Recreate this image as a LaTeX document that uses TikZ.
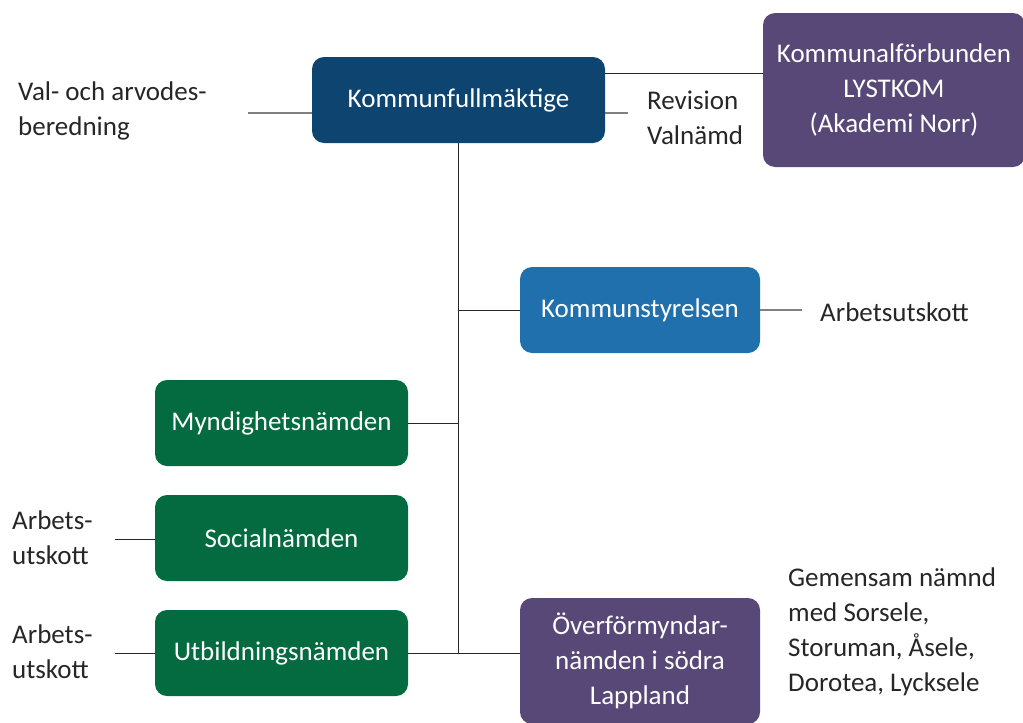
\documentclass[tikz,border=0pt]{standalone}
\usepackage{fontspec}
\setmainfont{Carlito}
\definecolor{kfblue}{HTML}{0D4470}
\definecolor{ksblue}{HTML}{1F70AC}
\definecolor{nmgreen}{HTML}{046A3F}
\definecolor{lila}{HTML}{574878}
\definecolor{txt}{HTML}{262626}
\definecolor{lgray}{HTML}{808080}
\tikzset{
  orgbox/.style={rounded corners=12pt, text=white, align=center, inner sep=0pt,
    font=\fontsize{27}{35}\selectfont},
  lbl/.style={anchor=west, align=left, text=txt, inner sep=0pt,
    font=\fontsize{27}{35}\selectfont},
  trunk/.style={draw=black!85, line width=1pt},
  sub/.style={draw=lgray, line width=1.2pt},
}
\begin{document}
\begin{tikzpicture}[x=1pt,y=-1pt]
\useasboundingbox (0,0) rectangle (1023,723);
% boxes
\node[orgbox, fill=kfblue, minimum width=293pt, minimum height=86pt] (kf) at (458.5,100) {Kommunfullmäktige};
\node[orgbox, fill=lila, minimum width=262pt, minimum height=154pt] (kfb) at (894,90) {Kommunalförbunden\\LYSTKOM\\(Akademi Norr)};
\node[orgbox, fill=ksblue, minimum width=240pt, minimum height=86pt] (ks) at (640,310) {Kommunstyrelsen};
\node[orgbox, fill=nmgreen, minimum width=253pt, minimum height=86pt] (mynd) at (281.5,423) {Myndighetsnämden};
\node[orgbox, fill=nmgreen, minimum width=253pt, minimum height=86pt] (soc) at (281.5,538) {Socialnämden};
\node[orgbox, fill=nmgreen, minimum width=253pt, minimum height=86pt] (utb) at (281.5,653) {Utbildningsnämden};
\node[orgbox, fill=lila, minimum width=240pt, minimum height=126pt] (over) at (640,661) {Överförmyndar-\\nämden i södra\\Lappland};
% labels
\node[lbl] (valb) at (18,111) {Val- och arvodes-\\beredning};
\node[lbl] (rev) at (647,118) {Revision\\Valnämd};
\node[lbl] (ksau) at (820,312) {Arbetsutskott};
\node[lbl] (socau) at (12,538) {Arbets-\\utskott};
\node[lbl] (utbau) at (12,652) {Arbets-\\utskott};
\node[lbl] (gem) at (788,632) {Gemensam nämnd\\med Sorsele,\\Storuman, Åsele,\\Dorotea, Lycksele};
% free ends
\coordinate (valbend) at (248,113);
\coordinate (revend) at (628,113);
\coordinate (ksauend) at (802,310);
\coordinate (socauend) at (115,539);
\coordinate (utbauend) at (115,653);
% connectors
\draw[trunk] (kf.south) -- (kf.south |- utb.east);
\draw[trunk] ([yshift=27pt]kf.east) -- ([yshift=27pt]kf.east -| kfb.west);
\draw[sub] (kf.west |- valbend) -- (valbend);
\draw[sub] (kf.east |- revend) -- (revend);
\draw[trunk] (ks.west) -- (ks.west -| kf.south);
\draw[sub] (ks.east) -- (ksauend);
\draw[trunk] (mynd.east) -- (mynd.east -| kf.south);
\draw[trunk] (utb.east) -- (utb.east -| over.west);
\draw[trunk] (soc.west |- socauend) -- (socauend);
\draw[trunk] (utb.west) -- (utbauend);
\end{tikzpicture}
\end{document}
